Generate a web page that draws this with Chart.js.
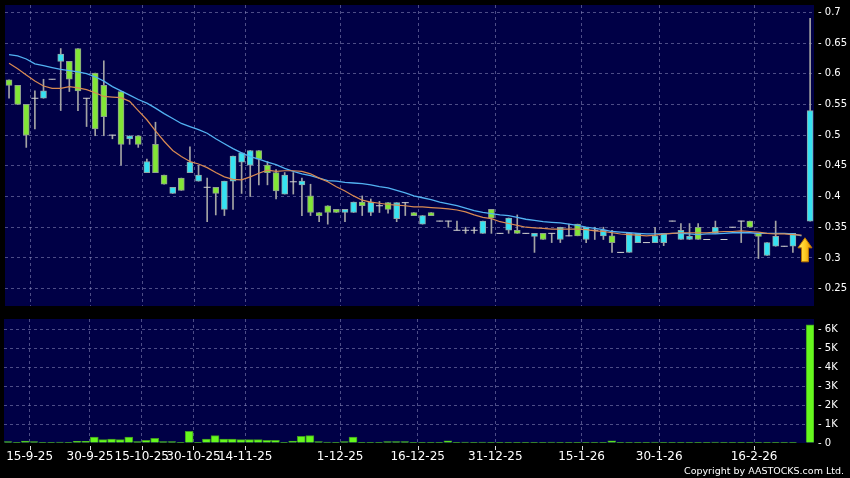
<!DOCTYPE html>
<html>
<head>
<meta charset="utf-8">
<script src="https://cdn.jsdelivr.net/npm/chart.js@4.4.1/dist/chart.umd.min.js"></script>
<style>
    html, body { margin: 0; padding: 0; background: #000; }
    #wrap { position: relative; width: 850px; height: 478px; background: #000; overflow: hidden; }
    canvas { position: absolute; left: 0; }
    #price-chart { top: 0; }
    #volume-chart { top: 312px; }
</style>
</head>
<body>
<div id="wrap">
    <canvas id="price-chart" width="850" height="312"></canvas>
    <canvas id="volume-chart" width="850" height="166"></canvas>
</div>
<script>
// Daily candles, one slot per trading session (index 92 has no trade)
const opens = [
    0.590, 0.581, 0.550, 0.560, 0.560, 0.591, 0.620, 0.620, 0.641, 0.560,
    0.601, 0.581, 0.500, 0.571, 0.494, 0.499, 0.439, 0.485, 0.435, 0.405,
    0.430, 0.439, 0.425, 0.415, 0.415, 0.379, 0.425, 0.456, 0.451, 0.475,
    0.451, 0.439, 0.404, 0.424, 0.419, 0.401, 0.374, 0.385, 0.379, 0.374,
    0.374, 0.391, 0.374, 0.385, 0.390, 0.364, 0.390, 0.374, 0.355, 0.374,
    0.360, 0.360, 0.345, 0.345, 0.345, 0.340, 0.379, 0.340, 0.345, 0.345,
    0.340, 0.335, 0.340, 0.340, 0.330, 0.336, 0.355, 0.330, 0.345, 0.336,
    0.336, 0.309, 0.309, 0.325, 0.325, 0.325, 0.325, 0.360, 0.330, 0.330,
    0.350, 0.330, 0.340, 0.330, 0.350, 0.360, 0.360, 0.340, 0.304, 0.319,
    0.319, 0.319, null, 0.360
];
const highs = [
    0.590, 0.581, 0.550, 0.572, 0.591, 0.591, 0.641, 0.620, 0.641, 0.560,
    0.601, 0.621, 0.500, 0.571, 0.499, 0.499, 0.461, 0.521, 0.435, 0.415,
    0.430, 0.481, 0.451, 0.430, 0.415, 0.425, 0.466, 0.471, 0.475, 0.475,
    0.457, 0.444, 0.439, 0.439, 0.430, 0.420, 0.374, 0.385, 0.379, 0.379,
    0.391, 0.401, 0.396, 0.392, 0.390, 0.390, 0.390, 0.374, 0.369, 0.374,
    0.360, 0.360, 0.360, 0.350, 0.350, 0.360, 0.379, 0.340, 0.365, 0.370,
    0.340, 0.340, 0.340, 0.340, 0.350, 0.355, 0.355, 0.350, 0.350, 0.350,
    0.345, 0.309, 0.340, 0.340, 0.325, 0.350, 0.340, 0.360, 0.356, 0.356,
    0.356, 0.330, 0.360, 0.330, 0.350, 0.360, 0.360, 0.340, 0.325, 0.360,
    0.319, 0.340, null, 0.690
];
const lows = [
    0.560, 0.550, 0.480, 0.510, 0.560, 0.591, 0.540, 0.571, 0.540, 0.514,
    0.499, 0.499, 0.494, 0.451, 0.485, 0.480, 0.439, 0.439, 0.420, 0.405,
    0.410, 0.439, 0.425, 0.359, 0.370, 0.369, 0.379, 0.405, 0.400, 0.419,
    0.419, 0.396, 0.404, 0.404, 0.369, 0.369, 0.359, 0.355, 0.374, 0.359,
    0.374, 0.369, 0.369, 0.374, 0.373, 0.359, 0.369, 0.369, 0.355, 0.369,
    0.360, 0.350, 0.345, 0.340, 0.340, 0.340, 0.340, 0.340, 0.340, 0.340,
    0.340, 0.309, 0.330, 0.325, 0.325, 0.336, 0.336, 0.325, 0.330, 0.330,
    0.309, 0.309, 0.309, 0.325, 0.325, 0.325, 0.320, 0.360, 0.330, 0.330,
    0.330, 0.330, 0.340, 0.330, 0.350, 0.325, 0.350, 0.299, 0.304, 0.319,
    0.319, 0.309, null, 0.360
];
const closes = [
    0.581, 0.550, 0.500, 0.560, 0.572, 0.591, 0.632, 0.591, 0.572, 0.560,
    0.510, 0.530, 0.500, 0.485, 0.499, 0.485, 0.457, 0.439, 0.420, 0.415,
    0.410, 0.456, 0.435, 0.415, 0.405, 0.425, 0.466, 0.471, 0.475, 0.461,
    0.439, 0.409, 0.435, 0.424, 0.425, 0.374, 0.369, 0.374, 0.374, 0.379,
    0.391, 0.385, 0.391, 0.385, 0.379, 0.390, 0.390, 0.369, 0.369, 0.369,
    0.360, 0.360, 0.345, 0.345, 0.345, 0.360, 0.365, 0.340, 0.365, 0.340,
    0.340, 0.340, 0.330, 0.340, 0.350, 0.336, 0.336, 0.350, 0.345, 0.345,
    0.325, 0.309, 0.340, 0.340, 0.325, 0.336, 0.340, 0.360, 0.345, 0.335,
    0.330, 0.330, 0.350, 0.330, 0.350, 0.360, 0.350, 0.335, 0.325, 0.335,
    0.319, 0.340, null, 0.540
];
const volumes = [
    70, 15, 105, 70, 35, 10, 50, 15, 90, 90,
    315, 175, 210, 175, 315, 70, 140, 245, 70, 70,
    20, 610, 20, 210, 385, 210, 210, 175, 175, 175,
    140, 140, 10, 105, 350, 385, 70, 50, 15, 70,
    315, 15, 15, 35, 70, 70, 70, 15, 15, 15,
    15, 120, 15, 50, 15, 50, 10, 10, 10, 10,
    10, 10, 10, 50, 10, 10, 10, 10, 35, 10,
    120, 10, 10, 10, 10, 50, 20, 10, 10, 10,
    10, 10, 50, 10, 10, 10, 10, 10, 10, 10,
    10, 10, null, 6226
];
// moving averages as drawn on the chart
const maSlow = [
    0.631, 0.629, 0.624, 0.616, 0.613, 0.610, 0.607, 0.605, 0.603, 0.600,
    0.595, 0.588, 0.579, 0.572, 0.565, 0.558, 0.552, 0.544, 0.535, 0.527,
    0.519, 0.514, 0.509, 0.503, 0.494, 0.486, 0.478, 0.471, 0.465, 0.461,
    0.456, 0.452, 0.446, 0.441, 0.437, 0.434, 0.430, 0.426, 0.425, 0.423,
    0.422, 0.421, 0.419, 0.416, 0.414, 0.410, 0.406, 0.401, 0.398, 0.395,
    0.391, 0.388, 0.385, 0.381, 0.377, 0.374, 0.372, 0.370, 0.369, 0.366,
    0.363, 0.361, 0.359, 0.358, 0.357, 0.355, 0.353, 0.350, 0.348, 0.346,
    0.343, 0.342, 0.341, 0.340, 0.339, 0.339, 0.339, 0.340, 0.340, 0.339,
    0.338, 0.339, 0.339, 0.340, 0.341, 0.341, 0.341, 0.340, 0.340, 0.340,
    0.340, 0.339, 0.336
];
const maFast = [
    0.617, 0.608, 0.598, 0.588, 0.580, 0.576, 0.576, 0.579, 0.577, 0.574,
    0.569, 0.563, 0.562, 0.561, 0.555, 0.540, 0.525, 0.507, 0.490, 0.475,
    0.465, 0.457, 0.453, 0.447, 0.439, 0.432, 0.428, 0.427, 0.432, 0.438,
    0.443, 0.441, 0.442, 0.442, 0.441, 0.437, 0.430, 0.424, 0.416, 0.409,
    0.401, 0.394, 0.391, 0.389, 0.387, 0.386, 0.385, 0.383, 0.383, 0.382,
    0.381, 0.380, 0.378, 0.375, 0.370, 0.366, 0.364, 0.359, 0.356, 0.353,
    0.350, 0.349, 0.348, 0.347, 0.347, 0.347, 0.347, 0.346, 0.344, 0.343,
    0.341, 0.339, 0.338, 0.337, 0.336, 0.337, 0.339, 0.340, 0.341, 0.341,
    0.341, 0.341, 0.342, 0.343, 0.343, 0.344, 0.343, 0.342, 0.340, 0.339,
    0.339, 0.338, 0.337
];
const dateTickPos = [2.5, 9.5, 15.5, 21.5, 27.5, 38.5, 47.5, 56.5, 66.5, 75.5, 86.5];
const dateTickLabels = ['15-9-25', '30-9-25', '15-10-25', '30-10-25', '14-11-25', '1-12-25',
    '16-12-25', '31-12-25', '15-1-26', '30-1-26', '16-2-26'];
const priceTicks = [0.25, 0.3, 0.35, 0.4, 0.45, 0.5, 0.55, 0.6, 0.65, 0.7];
const volumeTicks = [0, 1000, 2000, 3000, 4000, 5000, 6000];

const upColor = '#35e2f2';
const downColor = '#82e636';
const volColor = '#66f81c';
const plotBg = '#000046';
const gridColor = 'rgba(140, 140, 190, 0.55)';
const font = 'DejaVu Sans';

// split the candles into wicks, rising bodies, falling bodies and flat ones
const wicks = [], upBodies = [], downBodies = [], flats = [];
opens.forEach((o, i) => {
    if (o === null) return;
    const c = closes[i];
    wicks.push({ x: i, y: [lows[i], highs[i]] });
    if (c > o) upBodies.push({ x: i, y: [o, c] });
    else if (c < o) downBodies.push({ x: i, y: [o, c] });
    else flats.push({ x: i, y: c });
});
const volData = volumes.map((v, i) => ({ x: i, y: v })).filter(p => p.y !== null);

const panelBg = {
    id: 'panelBg',
    beforeDraw(chart) {
        const { ctx, chartArea: a } = chart;
        ctx.save();
        ctx.fillStyle = '#000';
        ctx.fillRect(0, 0, chart.width, chart.height);
        ctx.fillStyle = plotBg;
        ctx.fillRect(a.left, a.top, a.right - a.left, a.bottom - a.top);
        ctx.restore();
    }
};

const upArrow = {
    id: 'upArrow',
    afterDatasetsDraw(chart) {
        const { ctx } = chart;
        const x = chart.scales.x.getPixelForValue(maSlow.length - 0.6);
        const y = chart.scales.y.getPixelForValue(maSlow[maSlow.length - 1]) + 2;
        const g = ctx.createLinearGradient(x - 7, 0, x + 7, 0);
        g.addColorStop(0, '#ffe866');
        g.addColorStop(0.5, '#ffcc22');
        g.addColorStop(1, '#e08a00');
        ctx.save();
        ctx.beginPath();
        ctx.moveTo(x, y);
        ctx.lineTo(x + 7, y + 10);
        ctx.lineTo(x + 3.5, y + 10);
        ctx.lineTo(x + 3.5, y + 24);
        ctx.lineTo(x - 3.5, y + 24);
        ctx.lineTo(x - 3.5, y + 10);
        ctx.lineTo(x - 7, y + 10);
        ctx.closePath();
        ctx.fillStyle = g;
        ctx.fill();
        ctx.strokeStyle = '#b87400';
        ctx.lineWidth = 1;
        ctx.stroke();
        ctx.restore();
    }
};

const dateMarks = {
    id: 'dateMarks',
    afterDraw(chart) {
        const { ctx, chartArea: a } = chart;
        ctx.save();
        ctx.strokeStyle = '#ddd';
        ctx.lineWidth = 1;
        dateTickPos.forEach(v => {
            const x = Math.round(chart.scales.x.getPixelForValue(v)) + 0.5;
            ctx.beginPath();
            ctx.moveTo(x, a.bottom + 3);
            ctx.lineTo(x, a.bottom + 7);
            ctx.stroke();
        });
        ctx.fillStyle = '#fff';
        ctx.font = '9.5px ' + font;
        ctx.textAlign = 'right';
        ctx.textBaseline = 'middle';
        ctx.fillText('Copyright by AASTOCKS.com Ltd.', chart.width - 6, chart.height - 6);
        ctx.restore();
    }
};

// drop the extra room Chart.js keeps for labels at the ends of an axis
function noEdgePadding(axis) {
    axis.paddingTop = 0;
    axis.paddingBottom = 0;
    axis.paddingLeft = 0;
    axis.paddingRight = 0;
}

function xAxis(showLabels) {
    return {
        type: 'linear',
        min: -0.47,
        max: 93.45,
        offset: false,
        afterBuildTicks: axis => { axis.ticks = dateTickPos.map(v => ({ value: v })); },
        afterFit: axis => {
            axis.height = showLabels ? 35 : 0;
            noEdgePadding(axis);
        },
        grid: { color: gridColor, drawTicks: false, offset: false },
        border: { display: false, dash: [3, 3] },
        ticks: {
            display: showLabels,
            autoSkip: false,
            maxRotation: 0,
            minRotation: 0,
            padding: 7,
            color: '#fff',
            font: { family: font, size: 12 },
            callback: (v, i) => dateTickLabels[i]
        }
    };
}

function yAxis(min, max, tickList, format, gridFn) {
    return {
        position: 'right',
        min: min,
        max: max,
        afterBuildTicks: axis => { axis.ticks = tickList.map(v => ({ value: v })); },
        afterFit: axis => {
            axis.width = 36;
            noEdgePadding(axis);
        },
        grid: { color: gridFn || gridColor, drawTicks: false },
        border: { display: false, dash: [3, 3] },
        ticks: {
            padding: 4,
            color: '#fff',
            font: { family: font, size: 10 },
            callback: format
        }
    };
}

function initializeCharts() {
    new Chart(document.getElementById('price-chart'), {
        type: 'bar',
        data: {
            datasets: [
                { type: 'line', data: maSlow.map((v, i) => ({ x: i, y: v })), borderColor: '#52b2f2',
                  borderWidth: 1.3, pointRadius: 0, order: 1 },
                { type: 'line', data: maFast.map((v, i) => ({ x: i, y: v })), borderColor: '#d98a52',
                  borderWidth: 1.2, pointRadius: 0, order: 0 },
                { type: 'line', data: flats, showLine: false, pointStyle: 'line', pointRadius: 3.5,
                  pointBorderWidth: 1, borderColor: '#cfcfcf', order: 2 },
                { data: upBodies, backgroundColor: upColor, borderColor: '#8fa8a8', borderWidth: 1,
                  borderSkipped: false, barThickness: 6, grouped: false, order: 3 },
                { data: downBodies, backgroundColor: downColor, borderColor: '#8fa08f', borderWidth: 1,
                  borderSkipped: false, barThickness: 6, grouped: false, order: 3 },
                { data: wicks, backgroundColor: '#a4a4a4', borderWidth: 0,
                  barThickness: 1, grouped: false, order: 4 }
            ]
        },
        options: {
            responsive: false,
            animation: false,
            devicePixelRatio: 1,
            layout: { padding: { left: 4, top: 5, right: 0, bottom: 6 } },
            plugins: { legend: { display: false }, tooltip: { enabled: false } },
            scales: {
                x: xAxis(false),
                y: yAxis(0.2217, 0.7119, priceTicks, v => '- ' + Number(v.toFixed(2)))
            }
        },
        plugins: [panelBg, upArrow]
    });

    new Chart(document.getElementById('volume-chart'), {
        type: 'bar',
        data: {
            datasets: [{
                data: volData,
                backgroundColor: volColor,
                borderColor: '#3f9a20',
                borderWidth: 1,
                borderSkipped: 'start',
                barThickness: 8
            }]
        },
        options: {
            responsive: false,
            animation: false,
            devicePixelRatio: 1,
            layout: { padding: { left: 4, top: 7, right: 0, bottom: 0 } },
            plugins: { legend: { display: false }, tooltip: { enabled: false } },
            scales: {
                x: xAxis(true),
                y: yAxis(0, 6540, volumeTicks,
                    v => '- ' + (v === 0 ? '0' : v / 1000 + 'K'),
                    c => (c.tick && c.tick.value === 0 ? 'rgba(0,0,0,0)' : gridColor))
            }
        },
        plugins: [panelBg, dateMarks]
    });
}

initializeCharts();
</script>
</body>
</html>
